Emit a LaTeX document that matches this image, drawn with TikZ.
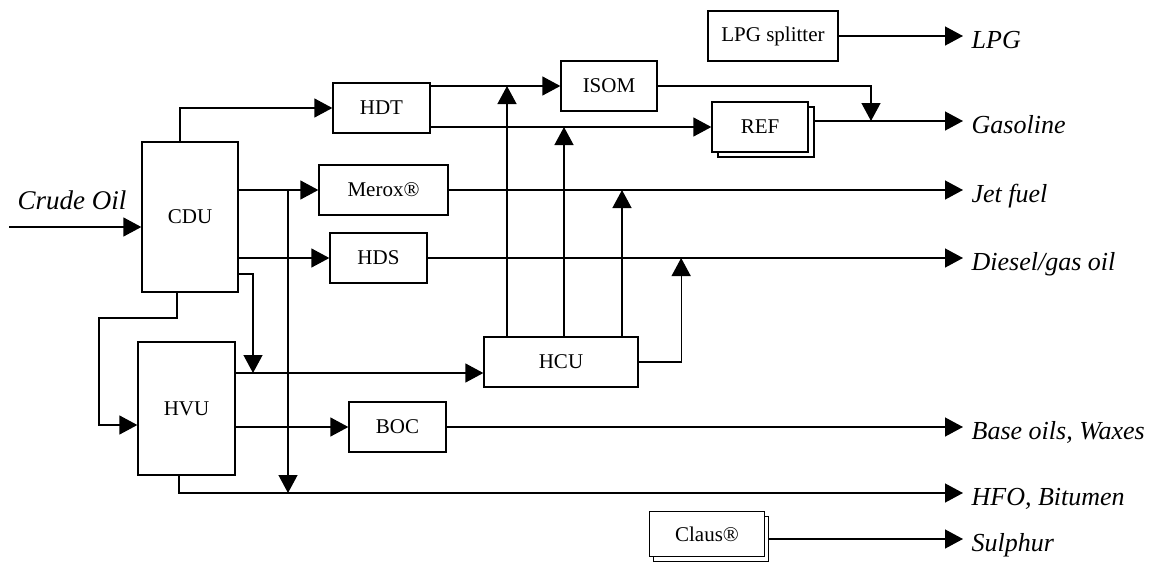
\documentclass[tikz,border=0pt]{standalone}
\usepackage{fontspec}
\setmainfont{Liberation Serif}
\usepackage{tikz}
\usetikzlibrary{arrows.meta}
\usetikzlibrary{positioning}

\tikzset{
  unit/.style={draw, minimum width=97pt, minimum height=50pt, inner sep=0pt,
    font=\fontsize{21}{24}\selectfont},
  product/.style={anchor=west, inner xsep=8pt, inner ysep=0pt,
    text height=26pt, text depth=2pt, font=\fontsize{26}{30}\selectfont\itshape}
}

\begin{document}
\begin{tikzpicture}
          [x=1pt, y=-1pt, line width=1.3pt, >={Triangle[length=18pt,width=19pt]}]
          \useasboundingbox (0,0) rectangle (1149,563);

          % process units
          \node (cdu) [unit, minimum width=96pt, minimum height=150pt] at (190,217) {CDU};
          \node (hvu) [unit, minimum height=133pt] at (186.5,408.5) {HVU};
          \node (hdt) [unit] at (381.5,108) {HDT};
          \node (merox) [unit, minimum width=129pt] at (383.5,190) {Merox®};
          \node (hds) [unit] at (378.5,258) {HDS};
          \node (hcu) [unit, minimum width=154pt] at (561,362) {HCU};
          \node (boc) [unit] at (397.5,427) {BOC};
          \node (isom) [unit, minimum width=96pt] at (609,86) {ISOM};
          \node (refback) [unit, minimum width=96pt] at (766,132) {};
          \node (ref) [unit, minimum width=96pt, fill=white] at (760,127) {REF};
          \node (splitter) [unit, minimum width=130pt] at (773,36) {LPG splitter};
          \node (clausback) [unit, minimum width=115pt, minimum height=45pt] at (711,539) {};
          \node (claus) [unit, minimum width=115pt, minimum height=45pt, fill=white] at (707,534) {Claus®};

          % products
          \node (crudelabel) [product, anchor=base, font=\fontsize{27}{30}\selectfont\itshape] at (72,209) {Crude Oil};
          \node (lpg) [product] at (963,36) {LPG};
          \node (gasoline) [product] at (963,121) {Gasoline};
          \node (jet) [product] at (963,190) {Jet fuel};
          \node (diesel) [product] at (963,258) {Diesel/gas oil};
          \node (base) [product] at (963,427) {Base oils, Waxes};
          \node (hfo) [product] at (963,493) {HFO, Bitumen};
          \node (sulphur) [product] at (963,539) {Sulphur};

          \coordinate (feed) at (9,227);
          \coordinate (tap) at (288,190);
          \coordinate (drop) at (253,373);
          \coordinate (loop) at (99,318);
          \coordinate (blend) at (871,121);

          \draw[->] (feed) -- (feed -| cdu.west);
          \draw[->] ([xshift=-10pt]cdu.north) |- (hdt.west);
          \draw[->] (cdu.east |- merox.west) -- (merox.west);
          \draw[->] (cdu.east |- hds.west) -- (hds.west);
          \draw[->] (cdu.east |- 0,274) -| (drop);
          \draw[->] ([xshift=-13pt]cdu.south) |- (loop) |- ([yshift=-16.5pt]hvu.west);
          \draw[->] (tap) -- (tap |- hfo.west);

          \draw[->] (hvu.east |- drop) -- (hcu.west |- drop);
          \draw[->] (hvu.east |- boc.west) -- (boc.west);
          \draw[->] ([xshift=-7.5pt]hvu.south) |- (hfo.west);

          \draw[->] (hdt.east |- isom.west) -- (isom.west);
          \draw[->] (hdt.east |- ref.west) -- (ref.west);
          \draw[->] (isom.east) -| (blend);
          \draw[->] (refback.east |- gasoline.west) -- (gasoline.west);
          \draw[->] (splitter.east) -- (lpg.west);

          \draw[->] (merox.east) -- (jet.west);
          \draw[->] (hds.east) -- (diesel.west);
          \draw[->] (boc.east) -- (base.west);
          \draw[->] (clausback.east) -- (sulphur.west);

          \foreach \dx/\dest in {-54/isom.west, 3/ref.west, 61/merox.east}
            \draw[->] ([xshift=\dx pt]hcu.north) -- ([xshift=\dx pt]hcu.north |- \dest);
          \draw[->] (hcu.east) -| ([xshift=42.5pt]hcu.east |- diesel.west);

        \end{tikzpicture}
\end{document}
